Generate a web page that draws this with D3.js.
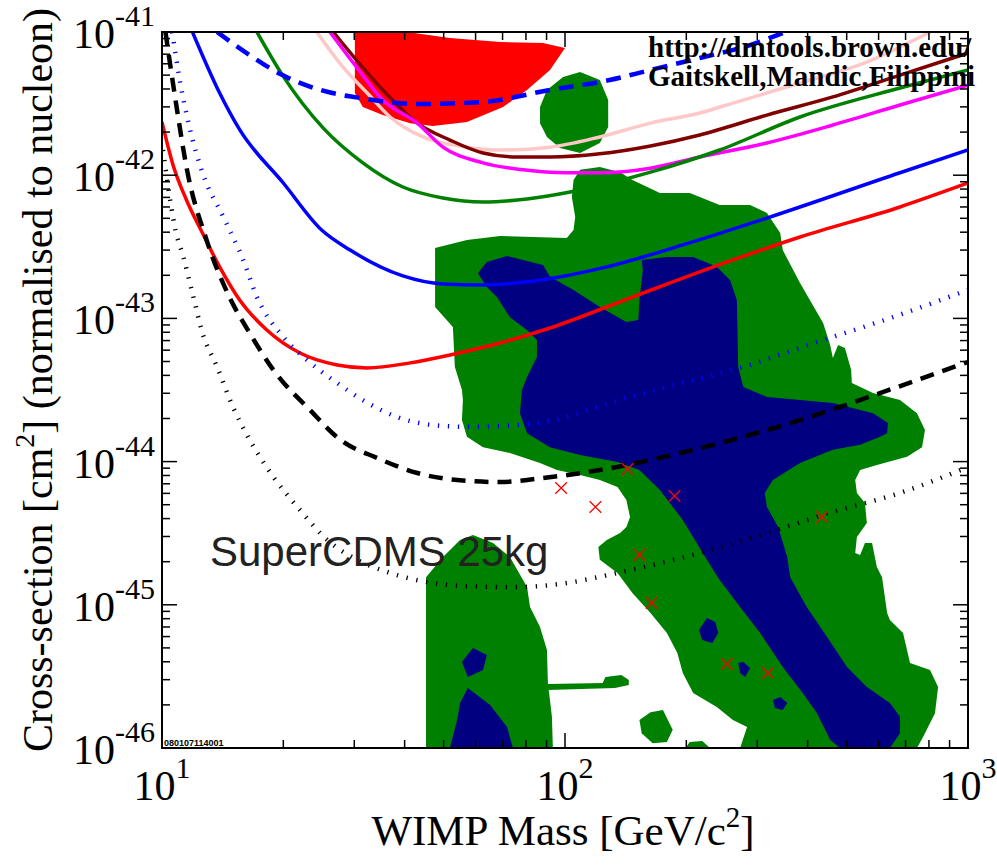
<!DOCTYPE html>
<html>
<head>
<meta charset="utf-8">
<script src="https://cdn.jsdelivr.net/npm/d3@7"></script>
<style>body{margin:0;background:#fff}</style>
</head>
<body>
<div id="svg-holder"></div>
<script>
// tick labels (powers of ten)
const xTickExps = [1, 2, 3]
const yTickExps = [-41, -42, -43, -44, -45, -46]

// limit curves: [WIMP mass GeV, cross-section cm2]
const blueDashed = [[13.7,1e-41],[16.5,6.9e-42],[19.9,5.0e-42],[24.7,3.94e-42],[31.0,3.46e-42],[43.0,3.14e-42],[62.6,3.25e-42],[91.8,3.94e-42],[129,4.62e-42],[163,5.43e-42],[216,6.58e-42],[288,8.11e-42],[352,1e-41]]
const blueSolid = [[11.9,1e-41],[13.9,3.75e-42],[15.6,2.07e-42],[20.0,8.82e-43],[24.9,4.14e-43],[29.3,3.0e-43],[39.6,1.98e-43],[49.8,1.74e-43],[62.6,1.71e-43],[80.5,1.80e-43],[127,2.29e-43],[196,3.26e-43],[317,5.02e-43],[678,1.04e-42],[1000,1.50e-42]]
const greenSolid = [[17.2,1e-41],[19.9,5.0e-42],[25.1,2.14e-42],[31.5,1.22e-42],[39.6,8.27e-43],[49.8,6.93e-43],[62.6,6.50e-43],[80.5,6.82e-43],[103,7.63e-43],[163,1.05e-42],[242,1.50e-42],[383,2.55e-42],[678,4.06e-42],[1000,5.43e-42]]
const magentaSolid = [[26.1,1e-41],[30.5,5.61e-42],[35.3,3.35e-42],[43.0,2.31e-42],[49.8,1.57e-42],[62.6,1.22e-42],[78.7,1.09e-42],[101,1.04e-42],[122,1.04e-42],[163,1.12e-42],[216,1.34e-42],[317,1.68e-42],[462,2.24e-42],[678,3.09e-42],[1000,4.26e-42]]
const maroonSolid = [[26.6,1e-41],[35.3,3.94e-42],[43.0,2.31e-42],[51.8,1.76e-42],[62.6,1.43e-42],[76.0,1.34e-42],[91.8,1.34e-42],[122,1.41e-42],[163,1.60e-42],[216,1.91e-42],[317,2.63e-42],[462,3.52e-42],[678,5.0e-42],[1000,7.13e-42]]
const pinkSolid = [[24.2,1e-41],[28.1,5.70e-42],[32.3,3.75e-42],[36.8,2.55e-42],[44.4,1.85e-42],[57.1,1.57e-42],[69.0,1.50e-42],[91.8,1.57e-42],[122,1.85e-42],[163,2.31e-42],[216,2.72e-42],[261,3.19e-42],[383,4.40e-42],[561,6.17e-42],[805,1e-41]]
const redSolid = [[10,2.35e-42],[10.65,1.18e-42],[11.5,6.71e-43],[12.6,3.95e-43],[13.9,2.29e-43],[15.6,1.34e-43],[18.2,8.30e-44],[22.0,5.73e-44],[27.2,4.73e-44],[32.3,4.51e-44],[41.3,4.89e-44],[51.8,5.55e-44],[69.0,6.73e-44],[91.8,8.57e-44],[147,1.41e-43],[261,2.56e-43],[383,3.70e-43],[678,6.0e-43],[1000,8.82e-43]]
const blackDashed = [[10.2,1e-41],[10.5,5.70e-42],[10.9,2.85e-42],[11.5,1.14e-42],[12.9,3.53e-43],[14.7,1.41e-43],[16.5,7.91e-44],[18.9,4.36e-44],[23.3,2.29e-44],[27.7,1.42e-44],[34.2,1.06e-44],[43.0,8.32e-45],[54.0,7.44e-45],[69.0,7.20e-45],[88.2,7.68e-45],[122,8.73e-45],[216,1.24e-44],[383,1.95e-44],[605,3.01e-44],[1000,4.96e-44]]
const blueDotted = [[10.6,1e-41],[11.1,4.40e-42],[11.7,2.17e-42],[12.6,1.04e-42],[14.2,5.11e-43],[15.9,2.56e-43],[17.2,1.41e-43],[20.0,7.41e-44],[22.9,5.12e-44],[27.2,3.54e-44],[31.5,2.69e-44],[38.3,2.05e-44],[47.0,1.80e-44],[57.1,1.75e-44],[76.0,1.80e-44],[101,2.05e-44],[122,2.44e-44],[179,3.32e-44],[261,4.36e-44],[422,6.84e-44],[651,1.02e-43],[1000,1.58e-43]]
const blackDotted = [[10.06,1.50e-42],[10.3,9.26e-43],[10.8,4.14e-43],[11.3,2.68e-43],[11.9,1.50e-43],[12.6,7.91e-44],[13.7,4.58e-44],[15.0,2.41e-44],[16.5,1.42e-44],[18.9,7.81e-45],[22.0,4.59e-45],[25.7,2.84e-45],[30.5,2.06e-45],[36.8,1.67e-45],[45.5,1.44e-45],[57.1,1.35e-45],[76.0,1.33e-45],[101,1.42e-45],[135,1.67e-45],[216,2.30e-45],[317,3.17e-45],[462,4.45e-45],[678,6.04e-45],[1000,9.17e-45]]

// allowed regions
const redRegion = [[30.1,1e-41],[30.1,3.75e-42],[31.5,2.99e-42],[35.3,2.63e-42],[41.3,2.31e-42],[47.0,2.21e-42],[57.1,2.35e-42],[70.2,2.99e-42],[80.5,3.94e-42],[91.8,5.43e-42],[100,7.73e-42],[88.2,8.38e-42],[69.0,8.51e-42],[51.8,9.08e-42],[40.6,1e-41]]
const greenTop = [[86.7,2.99e-42],[90.2,3.94e-42],[98.9,4.85e-42],[109,5.26e-42],[122,4.62e-42],[128,3.35e-42],[128,2.17e-42],[122,1.68e-42],[109,1.43e-42],[97.2,1.55e-42],[90.2,1.85e-42],[86.7,2.31e-42]]
const greenMain = [[47.6,3.10e-43],[57.1,3.53e-43],[69.0,3.76e-43],[83.3,3.70e-43],[101,3.64e-43],[105,4.14e-43],[106,5.11e-43],[104,7.05e-43],[105,9.26e-43],[109,1.09e-42],[122,1.14e-42],[137,1.05e-42],[147,9.26e-43],[172,7.51e-43],[204,7.51e-43],[242,6.19e-43],[288,6.19e-43],[317,5.45e-43],[342,3.95e-43],[347,3.0e-43],[383,1.77e-43],[437,9.29e-44],[455,6.52e-44],[462,5.29e-44],[476,6.52e-44],[495,6.21e-44],[513,4.36e-44],[515,3.54e-44],[581,3.01e-44],[678,2.69e-44],[747,2.18e-44],[782,1.66e-44],[769,1.26e-44],[706,1.08e-44],[594,9.47e-45],[540,8.73e-45],[525,7.44e-45],[530,6.04e-45],[555,5.14e-45],[561,3.72e-45],[530,2.98e-45],[525,2.30e-45],[540,2.23e-45],[555,2.70e-45],[578,2.70e-45],[594,1.84e-45],[612,1.56e-45],[630,8.77e-46],[640,7.83e-46],[690,6.35e-46],[718,3.93e-46],[805,3.51e-46],[843,2.67e-46],[828,1.75e-46],[773,1.19e-46],[747,1e-46],[272,1e-46],[283,1.40e-46],[261,1.57e-46],[238,1.93e-46],[208,2.42e-46],[196,3.34e-46],[190,4.61e-46],[179,6.35e-46],[163,8.77e-46],[147,1.21e-45],[135,1.67e-45],[122,2.06e-45],[121,2.53e-45],[127,2.84e-45],[137,3.17e-45],[142,3.49e-45],[145,4.10e-45],[142,5.40e-45],[135,6.65e-45],[122,7.44e-45],[109,8.06e-45],[95.5,8.73e-45],[86.7,9.77e-45],[73.0,1.15e-44],[62.6,1.26e-44],[57.1,1.49e-44],[55.5,1.95e-44],[55.8,2.69e-44],[55.5,3.16e-44],[53.3,4.58e-44],[52.7,8.71e-44],[47.6,1.20e-43]]
const greenLeft = [[45.2,1e-46],[45.2,1.56e-45],[49.8,2.16e-45],[54.9,2.84e-45],[59.1,3.07e-45],[66.3,2.70e-45],[73.0,2.16e-45],[80.5,1.33e-45],[81.9,9.66e-46],[86.7,7.0e-46],[90.2,4.83e-46],[90.7,2.84e-46],[92.8,1.65e-46],[93.3,1e-46]]
const greenArm = [[90.7,2.80e-46],[124,2.84e-46],[126,3.13e-46],[138,3.24e-46],[144,2.98e-46],[144,2.75e-46],[133,2.62e-46],[90.7,2.54e-46]]
const greenIsland = [[153,1.57e-46],[163,1.78e-46],[175,1.84e-46],[185,1.34e-46],[179,1.10e-46],[165,1.08e-46],[155,1.27e-46]]
const greenBump = [[199,1e-46],[204,1.10e-46],[219,1.12e-46],[229,1e-46]]
const blueMain = [[60.8,2.07e-43],[64.0,2.48e-43],[71.8,2.73e-43],[88.2,2.36e-43],[91.8,1.95e-43],[105,1.58e-43],[122,1.20e-43],[142,9.44e-44],[152,9.75e-44],[153,1.34e-43],[156,2.18e-43],[155,2.56e-43],[179,2.68e-43],[208,2.68e-43],[238,2.29e-43],[257,1.85e-43],[267,1.34e-43],[269,4.58e-44],[277,3.32e-44],[317,2.83e-44],[462,2.57e-44],[581,2.18e-44],[633,1.86e-44],[630,1.58e-44],[605,1.49e-44],[540,1.31e-44],[462,1.21e-44],[383,9.77e-45],[328,7.44e-45],[313,6.04e-45],[317,4.82e-45],[338,3.49e-45],[356,2.16e-45],[362,1.56e-45],[398,9.66e-46],[447,5.96e-46],[501,3.68e-46],[561,2.67e-46],[640,2.06e-46],[678,1.65e-46],[678,1.27e-46],[640,1e-46],[481,1e-46],[455,1.14e-46],[422,1.75e-46],[389,2.42e-46],[347,3.68e-46],[305,6.35e-46],[272,9.66e-46],[242,1.49e-45],[225,2.06e-45],[196,3.91e-45],[172,6.34e-45],[153,8.73e-45],[135,9.93e-45],[109,1.11e-44],[91.8,1.26e-44],[80.5,1.58e-44],[77.3,2.18e-44],[78.2,3.16e-44],[80.5,3.90e-44],[85.2,5.37e-44],[85.2,7.06e-44],[80.5,8.30e-44],[73.0,1.02e-43],[67.8,1.41e-43],[64.0,1.66e-43]]
const blueLeftIsland = [[55.5,3.99e-46],[59.1,4.99e-46],[64.0,4.46e-46],[62.6,3.51e-46],[57.4,3.13e-46]]
const blueLeftBottom = [[51.8,1e-46],[54.0,1.57e-46],[54.9,2.06e-46],[57.4,2.62e-46],[65.2,2.0e-46],[71.8,1.40e-46],[74.3,1e-46]]
const blueIsland1 = [[225,8.09e-46],[236,7.59e-46],[240,6.35e-46],[232,5.41e-46],[219,5.68e-46],[215,6.67e-46]]
const blueIsland2 = [[269,3.93e-46],[277,3.99e-46],[288,3.62e-46],[280,3.13e-46],[272,3.34e-46]]
const blueIsland3 = [[328,2.16e-46],[342,2.27e-46],[356,2.06e-46],[347,1.84e-46],[332,1.90e-46]]

// model points
const crosses = [[97.8,6.54e-45],[119,4.82e-45],[143,8.87e-45],[187,5.75e-45],[153,2.23e-45],[164,1.03e-45],[252,3.86e-46],[319,3.34e-46],[434,4.10e-45]]

let width = 997,
    height = 866

let svg = d3.select("#svg-holder").append('svg')
    .attr("width", width)
    .attr("height", height)
    .style("font-family", "'Liberation Serif', 'Times New Roman', serif")

let x = d3.scaleLog().domain([10, 1000]).range([162, 968])
let y = d3.scaleLog().domain([1e-46, 1e-41]).range([748, 32])

svg.append('clipPath').attr('id', 'plot-clip')
    .append('rect')
    .attr('x', x(10)).attr('y', y(1e-41))
    .attr('width', x(1000) - x(10)).attr('height', y(1e-46) - y(1e-41))

let plot = svg.append('g').attr('clip-path', 'url(#plot-clip)')

let area = d3.line().x(d => x(d[0])).y(d => y(d[1])).curve(d3.curveLinearClosed)
let curve = d3.line().x(d => x(d[0])).y(d => y(d[1])).curve(d3.curveMonotoneX)

// regions
plot.append('path').attr('d', area(redRegion)).attr('fill', '#ff0000')
;[greenTop, greenMain, greenLeft, greenArm, greenIsland, greenBump].forEach(r => {
    plot.append('path').attr('d', area(r)).attr('fill', '#008000')
})
;[blueMain, blueLeftIsland, blueLeftBottom, blueIsland1, blueIsland2, blueIsland3].forEach(r => {
    plot.append('path').attr('d', area(r)).attr('fill', '#000080')
})

// limit curves
let curves = [
    {data: pinkSolid, color: '#ffc8c8', w: 3.5},
    {data: maroonSolid, color: '#800000', w: 3.5},
    {data: magentaSolid, color: '#ff00ff', w: 3.5},
    {data: greenSolid, color: '#008000', w: 3.5},
    {data: blueSolid, color: '#0000ff', w: 3.5},
    {data: redSolid, color: '#ff0000', w: 3.5},
    {data: blueDashed, color: '#0000ff', w: 4.5, dash: '15,9'},
    {data: blackDashed, color: '#000000', w: 4.5, dash: '14,9'},
    {data: blueDotted, color: '#0000ff', w: 4.5, dash: '1.3,8.7'},
    {data: blackDotted, color: '#000000', w: 4.5, dash: '1.3,8.7'}
]
curves.forEach(c => {
    plot.append('path')
        .attr('d', curve(c.data))
        .attr('fill', 'none')
        .attr('stroke', c.color)
        .attr('stroke-width', c.w)
        .attr('stroke-dasharray', c.dash || null)
})

plot.append('g')
    .selectAll('path')
    .data(crosses)
    .enter()
    .append('path')
        .attr('transform', d => `translate(${x(d[0])}, ${y(d[1])})`)
        .attr('d', d3.symbol().type(d3.symbolTimes).size(90))
        .attr('fill', 'none')
        .attr('stroke', '#ff0000')
        .attr('stroke-width', 1.3)

// annotations
svg.append('text')
    .attr('x', 210).attr('y', 566)
    .style('font-family', "'Liberation Sans', Arial, sans-serif")
    .style('font-size', '42px')
    .attr('fill', '#222')
    .text('SuperCDMS 25kg')

svg.append('text')
    .attr('x', 648).attr('y', 57)
    .style('font-size', '29px').style('font-weight', 'bold')
    .text('http://dmtools.brown.edu/')
svg.append('text')
    .attr('x', 648).attr('y', 86)
    .style('font-size', '29px').style('font-weight', 'bold')
    .text('Gaitskell,Mandic,Filippini')

svg.append('text')
    .attr('x', 164).attr('y', 746)
    .style('font-family', "'Liberation Sans', Arial, sans-serif")
    .style('font-size', '9px').style('font-weight', 'bold')
    .text('080107114001')

// ticks
let isMajor = v => Math.abs(Math.log10(v) - Math.round(Math.log10(v))) < 1e-6
let ticks = svg.append('g').attr('stroke', '#000').attr('stroke-width', 1.5)
x.ticks().forEach(v => {
    let len = isMajor(v) ? 15 : 8
    ticks.append('line').attr('x1', x(v)).attr('x2', x(v)).attr('y1', y(1e-46)).attr('y2', y(1e-46) - len)
    ticks.append('line').attr('x1', x(v)).attr('x2', x(v)).attr('y1', y(1e-41)).attr('y2', y(1e-41) + len)
})
y.ticks().forEach(v => {
    let len = isMajor(v) ? 15 : 8
    ticks.append('line').attr('x1', x(10)).attr('x2', x(10) + len).attr('y1', y(v)).attr('y2', y(v))
    ticks.append('line').attr('x1', x(1000)).attr('x2', x(1000) - len).attr('y1', y(v)).attr('y2', y(v))
})

svg.append('rect')
    .attr('x', x(10)).attr('y', y(1e-41))
    .attr('width', x(1000) - x(10)).attr('height', y(1e-46) - y(1e-41))
    .attr('fill', 'none')
    .attr('stroke', '#000')
    .attr('stroke-width', 2)

// tick labels
yTickExps.forEach(e => {
    let t = svg.append('text')
        .attr('x', 155).attr('y', y(Math.pow(10, e)) + 16)
        .attr('text-anchor', 'end')
    t.append('tspan').style('font-size', '42px').text('10')
    t.append('tspan').style('font-size', '30px').attr('dy', -22).text(e)
})
xTickExps.forEach(e => {
    let t = svg.append('text')
        .attr('x', x(Math.pow(10, e))).attr('y', 800)
        .attr('text-anchor', 'middle')
    t.append('tspan').style('font-size', '42px').text('10')
    t.append('tspan').style('font-size', '30px').attr('dy', -22).text(e)
})

// axis titles
let xt = svg.append('text')
    .attr('x', 563).attr('y', 845)
    .attr('text-anchor', 'middle')
    .style('font-size', '43px')
xt.append('tspan').text('WIMP Mass [GeV/c')
xt.append('tspan').style('font-size', '29px').attr('dy', -18).text('2')
xt.append('tspan').attr('dy', 18).text(']')

let yt = svg.append('text')
    .attr('transform', 'translate(52, 380) rotate(-90)')
    .attr('text-anchor', 'middle')
    .style('font-size', '42px')
yt.append('tspan').text('Cross-section [cm')
yt.append('tspan').style('font-size', '28px').attr('dy', -18).text('2')
yt.append('tspan').attr('dy', 18).text('] (normalised to nucleon)')
</script>
</body>
</html>
